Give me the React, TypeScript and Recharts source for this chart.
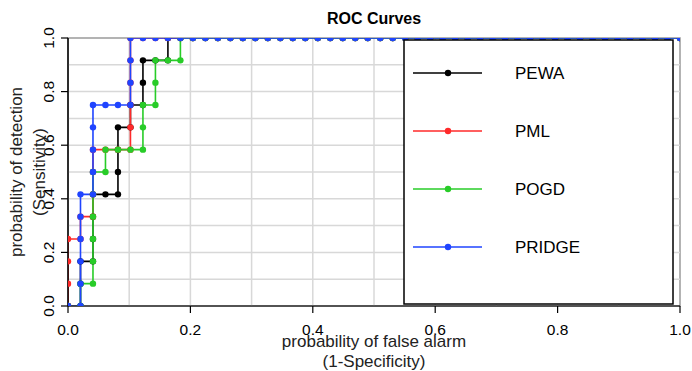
import React from 'react';
import { LineChart, Line, XAxis, YAxis, ReferenceLine, ReferenceArea } from 'recharts';

// counts of false alarms (out of 49 negatives) and hits (out of 12 positives)
const N_NEG = 49;
const N_POS = 12;

const PEWA_FA = [0, 1, 1, 1, 2, 2, 2, 2, 3, 4, 4, 4, 4, 5, 5, 6, 6, 6, 7, 8, 8,
  9, 10, 11, 12, 13, 14, 15, 16, 17, 18, 19, 20, 21, 22, 23, 24, 25, 26, 27, 28, 29,
  30, 31, 32, 33, 34, 35, 36, 37, 38, 39, 40, 41, 42, 43, 44, 45, 46, 47, 48, 49];
const PEWA_HIT = [0, 0, 1, 2, 2, 3, 4, 5, 5, 5, 6, 7, 8, 8, 9, 9, 10, 11, 11, 11, 12,
  12, 12, 12, 12, 12, 12, 12, 12, 12, 12, 12, 12, 12, 12, 12, 12, 12, 12, 12, 12, 12,
  12, 12, 12, 12, 12, 12, 12, 12, 12, 12, 12, 12, 12, 12, 12, 12, 12, 12, 12, 12];

const PML_FA = [0, 0, 0, 0, 1, 1, 2, 2, 2, 2, 3, 4, 5, 5, 5, 5, 5, 5,
  6, 7, 8, 9, 10, 11, 12, 13, 14, 15, 16, 17, 18, 19, 20, 21, 22, 23, 24, 25, 26, 27, 28, 29,
  30, 31, 32, 33, 34, 35, 36, 37, 38, 39, 40, 41, 42, 43, 44, 45, 46, 47, 48, 49];
const PML_HIT = [0, 1, 2, 3, 3, 4, 4, 5, 6, 7, 7, 7, 7, 8, 9, 10, 11, 12,
  12, 12, 12, 12, 12, 12, 12, 12, 12, 12, 12, 12, 12, 12, 12, 12, 12, 12, 12, 12, 12, 12, 12, 12,
  12, 12, 12, 12, 12, 12, 12, 12, 12, 12, 12, 12, 12, 12, 12, 12, 12, 12, 12, 12];

const POGD_FA = [0, 1, 1, 2, 2, 2, 2, 2, 2, 3, 3, 4, 5, 6, 6, 6, 7, 7, 7, 8, 9, 9,
  10, 11, 12, 13, 14, 15, 16, 17, 18, 19, 20, 21, 22, 23, 24, 25, 26, 27, 28, 29,
  30, 31, 32, 33, 34, 35, 36, 37, 38, 39, 40, 41, 42, 43, 44, 45, 46, 47, 48, 49];
const POGD_HIT = [0, 0, 1, 1, 2, 3, 4, 5, 6, 6, 7, 7, 7, 7, 8, 9, 9, 10, 11, 11, 11, 12,
  12, 12, 12, 12, 12, 12, 12, 12, 12, 12, 12, 12, 12, 12, 12, 12, 12, 12, 12, 12,
  12, 12, 12, 12, 12, 12, 12, 12, 12, 12, 12, 12, 12, 12, 12, 12, 12, 12, 12, 12];

const PRIDGE_FA = [0, 1, 1, 1, 1, 1, 1, 2, 2, 2, 2, 2, 3, 4, 5, 5, 5, 5,
  6, 7, 8, 9, 10, 11, 12, 13, 14, 15, 16, 17, 18, 19, 20, 21, 22, 23, 24, 25, 26, 27, 28, 29,
  30, 31, 32, 33, 34, 35, 36, 37, 38, 39, 40, 41, 42, 43, 44, 45, 46, 47, 48, 49];
const PRIDGE_HIT = [0, 0, 1, 2, 3, 4, 5, 5, 6, 7, 8, 9, 9, 9, 9, 10, 11, 12,
  12, 12, 12, 12, 12, 12, 12, 12, 12, 12, 12, 12, 12, 12, 12, 12, 12, 12, 12, 12, 12, 12, 12, 12,
  12, 12, 12, 12, 12, 12, 12, 12, 12, 12, 12, 12, 12, 12, 12, 12, 12, 12, 12, 12];

const SERIES_NAMES = ['PEWA', 'PML', 'POGD', 'PRIDGE'];
const AXIS_TICKS = [0, 0.2, 0.4, 0.6, 0.8, 1.0];
const GRID_TICKS = [0.1, 0.2, 0.3, 0.4, 0.5, 0.6, 0.7, 0.8, 0.9];

const COLORS = ['#000000', '#FF2A2A', '#28CC28', '#1F44FF'];
const FONT = '"Liberation Sans", Arial, Helvetica, sans-serif';

const toPoints = (fa: number[], hit: number[]) =>
  fa.map((f, i) => ({ fpr: f / N_NEG, tpr: hit[i] / N_POS }));

const SERIES = [
  toPoints(PEWA_FA, PEWA_HIT),
  toPoints(PML_FA, PML_HIT),
  toPoints(POGD_FA, POGD_HIT),
  toPoints(PRIDGE_FA, PRIDGE_HIT),
];

const XTick = (props: any) => {
  const { x, y, payload } = props;
  return (
    <text x={x} y={y + 20} textAnchor="middle" fontSize={15.5} fontFamily={FONT} fill="#000">
      {Number(payload.value).toFixed(1)}
    </text>
  );
};

const YTick = (props: any) => {
  const { x, y, payload } = props;
  const bx = x - 5;
  return (
    <text x={bx} y={y} textAnchor="middle" fontSize={15.5} fontFamily={FONT} fill="#000"
      transform={`rotate(-90, ${bx}, ${y})`}>
      {Number(payload.value).toFixed(1)}
    </text>
  );
};

export default function App() {
  return (
    <div style={{ position: 'absolute', left: 0, top: 0, width: 692, height: 371, background: '#fff' }}>
      <LineChart width={692} height={371} data={SERIES[0]}
        margin={{ top: 38, right: 12, bottom: 0, left: 0 }}>
        <XAxis dataKey="fpr" type="number" domain={[0, 1]} ticks={AXIS_TICKS}
          height={65} tickSize={7} axisLine={{ stroke: '#333', strokeWidth: 1.5 }}
          tickLine={{ stroke: '#000', strokeWidth: 1.2 }} tick={<XTick />} allowDataOverflow />
        <YAxis type="number" domain={[0, 1]} ticks={AXIS_TICKS} width={68} tickSize={7}
          axisLine={{ stroke: '#000', strokeWidth: 1.5 }}
          tickLine={{ stroke: '#000', strokeWidth: 1.2 }} tick={<YTick />} allowDataOverflow />
        {GRID_TICKS.map((g) => (
          <ReferenceLine key={'gx' + g} x={g} stroke="#D8D8D8" strokeWidth={1.5} />
        ))}
        {GRID_TICKS.map((g) => (
          <ReferenceLine key={'gy' + g} y={g} stroke="#D8D8D8" strokeWidth={1.5} />
        ))}
        <ReferenceArea x1={0} x2={1} y1={0} y2={1} fill="none" fillOpacity={0}
          stroke="#9A9A9A" strokeWidth={1.5} />
        {SERIES.map((d, i) => (
          <Line key={SERIES_NAMES[i]} data={d} dataKey="tpr" name={SERIES_NAMES[i]}
            type="linear" stroke={COLORS[i]} strokeWidth={1.6}
            dot={{ r: 3.2, fill: COLORS[i], stroke: 'none' }} activeDot={false}
            isAnimationActive={false} />
        ))}
      </LineChart>
      <svg width={692} height={371} style={{ position: 'absolute', left: 0, top: 0, pointerEvents: 'none' }}>
        <text x={374} y={24} textAnchor="middle" fontSize={16} fontWeight="bold" fontFamily={FONT}>
          ROC Curves
        </text>
        <text x={374} y={347} textAnchor="middle" fontSize={17} fontFamily={FONT} fill="#222">
          probability of false alarm
        </text>
        <text x={374} y={367} textAnchor="middle" fontSize={17} fontFamily={FONT} fill="#222">
          (1-Specificity)
        </text>
        <text x={22} y={172} textAnchor="middle" fontSize={17} fontFamily={FONT} fill="#222"
          transform="rotate(-90, 22, 172)">
          probability of detection
        </text>
        <text x={45} y={172} textAnchor="middle" fontSize={17} fontFamily={FONT} fill="#222"
          transform="rotate(-90, 45, 172)">
          (Sensitivity)
        </text>
        <rect x={404} y={40} width={269} height={264} fill="#fff" stroke="#000" strokeWidth={1.5} />
        {SERIES_NAMES.map((name, i) => {
          const cy = 73 + i * 58;
          return (
            <g key={name}>
              <line x1={413} x2={482} y1={cy} y2={cy} stroke={COLORS[i]} strokeWidth={1.6} />
              <circle cx={448} cy={cy} r={3.2} fill={COLORS[i]} />
              <text x={515} y={cy + 6} fontSize={17} fontFamily={FONT} fill="#000">{name}</text>
            </g>
          );
        })}
      </svg>
    </div>
  );
}
